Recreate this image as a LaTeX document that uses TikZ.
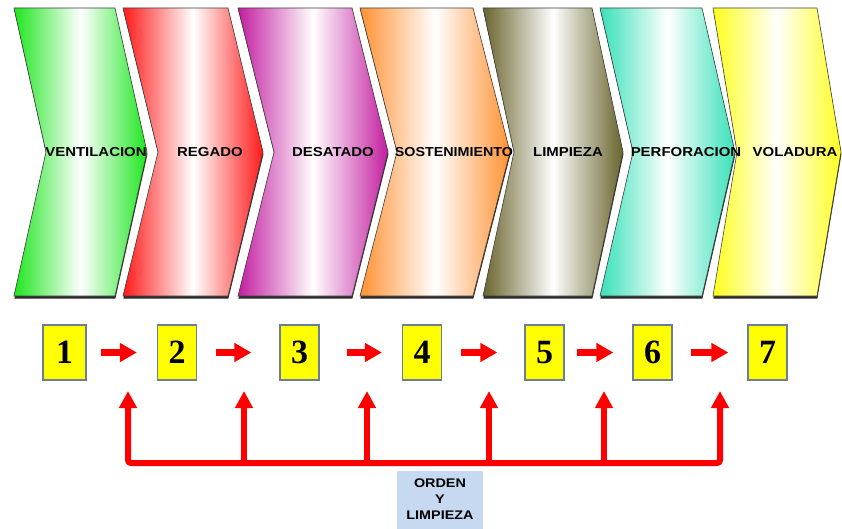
\documentclass[tikz,border=0pt]{standalone}
\usepackage{fontspec}
\setmainfont{Liberation Sans}
\newfontfamily\numfont{Liberation Serif}
\usetikzlibrary{arrows.meta}
\definecolor{cgreen}{RGB}{30,230,30}
\definecolor{cred}{RGB}{255,25,25}
\definecolor{cmag}{RGB}{195,30,160}
\definecolor{corange}{RGB}{255,145,50}
\definecolor{colive}{RGB}{105,100,45}
\definecolor{cteal}{RGB}{55,225,185}
\definecolor{cyellow}{RGB}{255,255,30}
\definecolor{numyellow}{RGB}{255,255,0}
\definecolor{boxborder}{RGB}{110,125,150}
\definecolor{arrred}{RGB}{255,0,0}
\definecolor{ordenblue}{RGB}{198,217,240}
\definecolor{chevshadow}{RGB}{40,40,40}
\definecolor{chevborder}{RGB}{60,60,60}
\newcommand\mychev[4]{%
  \fill[chevshadow, shift={(0.4,2.5)}] (#1,8) -- (#2,8) -- (#3,152) -- (#2,296) -- (#1,296) -- ({#1+#3-#2},152) -- cycle;
  \path[draw=chevborder, line width=0.6pt, left color=#4, right color=#4, middle color=white]
    (#1,8) -- (#2,8) -- (#3,152) -- (#2,296) -- (#1,296) -- ({#1+#3-#2},152) -- cycle;
}
\begin{document}
\begin{tikzpicture}[x=1pt,y=-1pt,
  chevlabel/.style={font=\fontsize{13}{15}\selectfont\bfseries, inner sep=0pt},
  numbox/.style={draw=boxborder, line width=1.2pt, fill=numyellow, minimum width=39pt, minimum height=55pt, inner sep=0pt, font=\numfont\fontsize{34}{36}\selectfont\bfseries},
  harrow/.style={draw=arrred, line width=7pt, -{Triangle[width=18pt,length=17pt]}},
  varrow/.style={draw=arrred, line width=6pt, -{Triangle[width=17pt,length=17pt]}},
  ordenbox/.style={fill=ordenblue, minimum width=86pt, minimum height=58pt, inner sep=0pt, font=\fontsize{12.5}{16}\selectfont\bfseries}
]
\useasboundingbox (0,0) rectangle (842,529);
% chevrons
\mychev{14}{115}{147}{cgreen}
\mychev{123}{228}{263}{cred}
\mychev{238}{352}{388}{cmag}
\mychev{360}{473}{510}{corange}
\mychev{483}{592}{623}{colive}
\mychev{600}{702}{735}{cteal}
\mychev{713}{817}{841}{cyellow}
\node[chevlabel] (l1) at (96,152) {\scalebox{1.15}[1]{VENTILACION}};
\node[chevlabel] (l2) at (210,152) {\scalebox{1.15}[1]{REGADO}};
\node[chevlabel] (l3) at (333,152) {\scalebox{1.15}[1]{DESATADO}};
\node[chevlabel] (l4) at (454,152) {\scalebox{1.1}[1]{SOSTENIMIENTO}};
\node[chevlabel] (l5) at (568,152) {\scalebox{1.15}[1]{LIMPIEZA}};
\node[chevlabel] (l6) at (686,152) {\scalebox{1.15}[1]{PERFORACION}};
\node[chevlabel] (l7) at (795,152) {\scalebox{1.15}[1]{VOLADURA}};
% number boxes
\node[numbox, minimum width=43pt] (n1) at (64.5,352.5) {1};
\node[numbox] (n2) at (177,352.5) {2};
\node[numbox] (n3) at (299.5,352.5) {3};
\node[numbox] (n4) at (422,352.5) {4};
\node[numbox] (n5) at (544.5,352.5) {5};
\node[numbox] (n6) at (652.5,352.5) {6};
\node[numbox] (n7) at (767.5,352.5) {7};
% horizontal arrows
\draw[harrow, shorten <=14pt, shorten >=20pt] (n1) -- (n2);
\draw[harrow, shorten <=19pt, shorten >=28pt] (n2) -- (n3);
\draw[harrow, shorten <=27pt, shorten >=20pt] (n3) -- (n4);
\draw[harrow, shorten <=19pt, shorten >=27pt] (n4) -- (n5);
\draw[harrow, shorten <=12pt, shorten >=19pt] (n5) -- (n6);
\draw[harrow, shorten <=18pt, shorten >=19pt] (n6) -- (n7);
% bus
\coordinate (b1) at (128,463); \coordinate (t1) at (128,391);
\coordinate (b2) at (244,463); \coordinate (t2) at (244,391);
\coordinate (b3) at (367,463); \coordinate (t3) at (367,391);
\coordinate (b4) at (489,463); \coordinate (t4) at (489,391);
\coordinate (b5) at (604,463); \coordinate (t5) at (604,391);
\coordinate (b6) at (720,463); \coordinate (t6) at (720,391);
\draw[varrow, {Triangle[width=17pt,length=17pt]}-{Triangle[width=17pt,length=17pt]}, rounded corners=3pt] (t1) -- (b1) -- (b6) -- (t6);
\draw[varrow] (b2) -- (t2);
\draw[varrow] (b3) -- (t3);
\draw[varrow] (b4) -- (t4);
\draw[varrow] (b5) -- (t5);
% label box
\node[ordenbox] (orden) at (440,500) {\scalebox{1.15}[1]{\begin{tabular}{@{}c@{}}ORDEN\\Y\\LIMPIEZA\end{tabular}}};
\end{tikzpicture}
\end{document}
